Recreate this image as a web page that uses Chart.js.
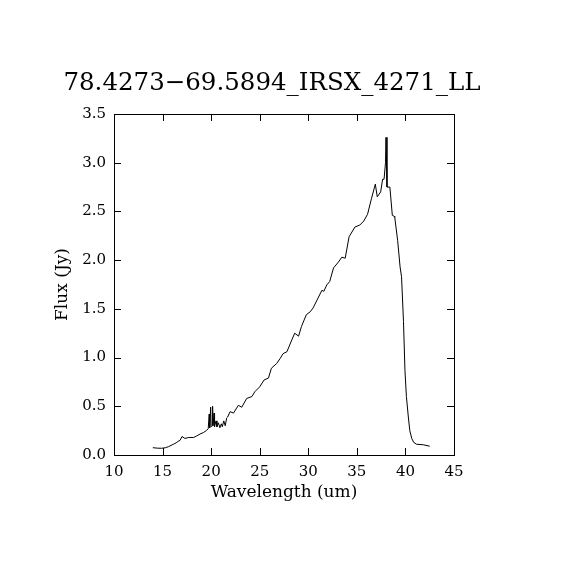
<!DOCTYPE html>
<html>
<head>
<meta charset="utf-8">
<script src="https://cdn.jsdelivr.net/npm/chart.js@4"></script>
<style>
  body { margin: 0; background: #fff; }
  #wrap { width: 570px; height: 570px; }
</style>
</head>
<body>
<div id="wrap"><canvas id="spec" width="570" height="570"></canvas></div>
<script>
// spectrum
const wavelength = [
  14.0, 14.5, 14.9, 15.3, 15.6, 16.1, 16.4, 16.6, 16.8, 17.0, 17.3, 17.7, 18.2, 18.5, 18.85,
  19.2, 19.5, 19.7, 19.8, 19.85, 19.95, 20.0, 20.1, 20.15, 20.2, 20.3, 20.35, 20.5, 20.6,
  20.75, 20.9, 21.05, 21.15, 21.3, 21.45, 21.6, 21.7, 21.95, 22.3, 22.8, 23.15, 23.65, 24.2,
  24.5, 25.0, 25.45, 25.9, 26.2, 26.75, 27.1, 27.4, 27.8, 28.3, 28.6, 29.0, 29.3, 29.8,
  30.2, 30.5, 30.9, 31.4, 31.6, 31.9, 32.2, 32.6, 33.1, 33.45, 33.8, 34.2, 34.8, 35.3,
  35.7, 36.1, 36.5, 36.9, 37.1, 37.45, 37.65, 37.8, 37.95, 38.0, 38.1, 38.4, 38.65, 38.85,
  38.9, 39.2, 39.45, 39.6, 39.8, 39.95, 40.1, 40.3, 40.45, 40.65, 40.85, 41.15, 41.85, 42.5
];
const flux = [
  0.075, 0.07, 0.069, 0.075, 0.085, 0.11, 0.125, 0.14, 0.15, 0.19, 0.17, 0.18, 0.18, 0.195, 0.215,
  0.23, 0.25, 0.27, 0.42, 0.28, 0.49, 0.29, 0.30, 0.50, 0.30, 0.43, 0.29, 0.35, 0.29,
  0.33, 0.28, 0.32, 0.29, 0.35, 0.30, 0.38, 0.39, 0.445, 0.43, 0.51, 0.49, 0.58, 0.60,
  0.65, 0.70, 0.77, 0.79, 0.89, 0.94, 0.99, 1.04, 1.06, 1.18, 1.25, 1.22, 1.32, 1.44,
  1.47, 1.51, 1.59, 1.69, 1.68, 1.745, 1.78, 1.92, 1.98, 2.03, 2.02, 2.24, 2.34, 2.36,
  2.40, 2.47, 2.63, 2.78, 2.65, 2.70, 2.83, 2.83, 3.0, 3.26, 2.75, 2.75, 2.46, 2.45,
  2.44, 2.2, 1.93, 1.83, 1.37, 0.87, 0.6, 0.39, 0.25, 0.17, 0.13, 0.11, 0.105, 0.09
];
const xTicks = [10, 15, 20, 25, 30, 35, 40, 45];
const yTicks = [0, 0.5, 1.0, 1.5, 2.0, 2.5, 3.0, 3.5];
const plotTitle = '78.4273\u221269.5894_IRSX_4271_LL';

const serif = 'DejaVu Serif';

// white page, title, box and inward ticks like the original plot
const framePlugin = {
  id: 'frame',
  beforeDraw(chart) {
    const ctx = chart.ctx;
    ctx.save();
    ctx.fillStyle = '#fff';
    ctx.fillRect(0, 0, chart.width, chart.height);
    ctx.restore();
  },
  afterDraw(chart) {
    const ctx = chart.ctx;
    const a = chart.chartArea;
    const xs = chart.scales.x, ys = chart.scales.y;
    const len = 7;
    ctx.save();
    ctx.strokeStyle = '#000';
    ctx.lineWidth = 1;
    ctx.strokeRect(Math.round(a.left) + 0.5, Math.round(a.top) + 0.5,
                   Math.round(a.right - a.left), Math.round(a.bottom - a.top));
    ctx.beginPath();
    xTicks.forEach(v => {
      const px = Math.round(xs.getPixelForValue(v)) + 0.5;
      ctx.moveTo(px, a.bottom); ctx.lineTo(px, a.bottom - len);
      ctx.moveTo(px, a.top); ctx.lineTo(px, a.top + len);
    });
    yTicks.forEach(v => {
      const py = Math.round(ys.getPixelForValue(v)) + 0.5;
      ctx.moveTo(a.left, py); ctx.lineTo(a.left + len, py);
      ctx.moveTo(a.right, py); ctx.lineTo(a.right - len, py);
    });
    ctx.stroke();

    ctx.fillStyle = '#000';
    ctx.font = '24.5px "' + serif + '"';
    ctx.textAlign = 'center';
    ctx.textBaseline = 'middle';
    ctx.fillText(plotTitle, 272, 84);
    ctx.restore();
  }
};

new Chart(document.getElementById('spec'), {
  type: 'line',
  data: {
    datasets: [{
      data: wavelength.map((w, i) => ({ x: w, y: flux[i] })),
      borderColor: '#000',
      borderWidth: 1,
      pointRadius: 0,
      tension: 0,
      fill: false
    }]
  },
  options: {
    responsive: false,
    animation: false,
    devicePixelRatio: 1,
    layout: { padding: { top: 114, right: 116, left: 0, bottom: 0 } },
    plugins: {
      legend: { display: false },
      title: { display: false },
      tooltip: { enabled: false }
    },
    scales: {
      x: {
        type: 'linear',
        min: 10,
        max: 45,
        afterBuildTicks: s => { s.ticks = xTicks.map(v => ({ value: v })); },
        afterFit: s => { s.height = 115; },
        grid: { display: false },
        border: { display: false },
        ticks: {
          color: '#000',
          padding: 0,
          maxRotation: 0,
          font: { family: serif, size: 15 },
          callback: v => String(v)
        },
        title: {
          display: true,
          text: 'Wavelength (um)',
          color: '#000',
          font: { family: serif, size: 17 },
          padding: { top: 0, bottom: 67 }
        }
      },
      y: {
        type: 'linear',
        min: 0,
        max: 3.5,
        afterBuildTicks: s => { s.ticks = yTicks.map(v => ({ value: v })); },
        afterFit: s => { s.width = 114; },
        grid: { display: false },
        border: { display: false },
        ticks: {
          color: '#000',
          padding: 0,
          font: { family: serif, size: 15 },
          callback: v => v.toFixed(1)
        },
        title: {
          display: true,
          text: 'Flux (Jy)',
          color: '#000',
          font: { family: serif, size: 17 },
          padding: { top: 52, bottom: 0 }
        }
      }
    }
  },
  plugins: [framePlugin]
});
</script>
</body>
</html>
